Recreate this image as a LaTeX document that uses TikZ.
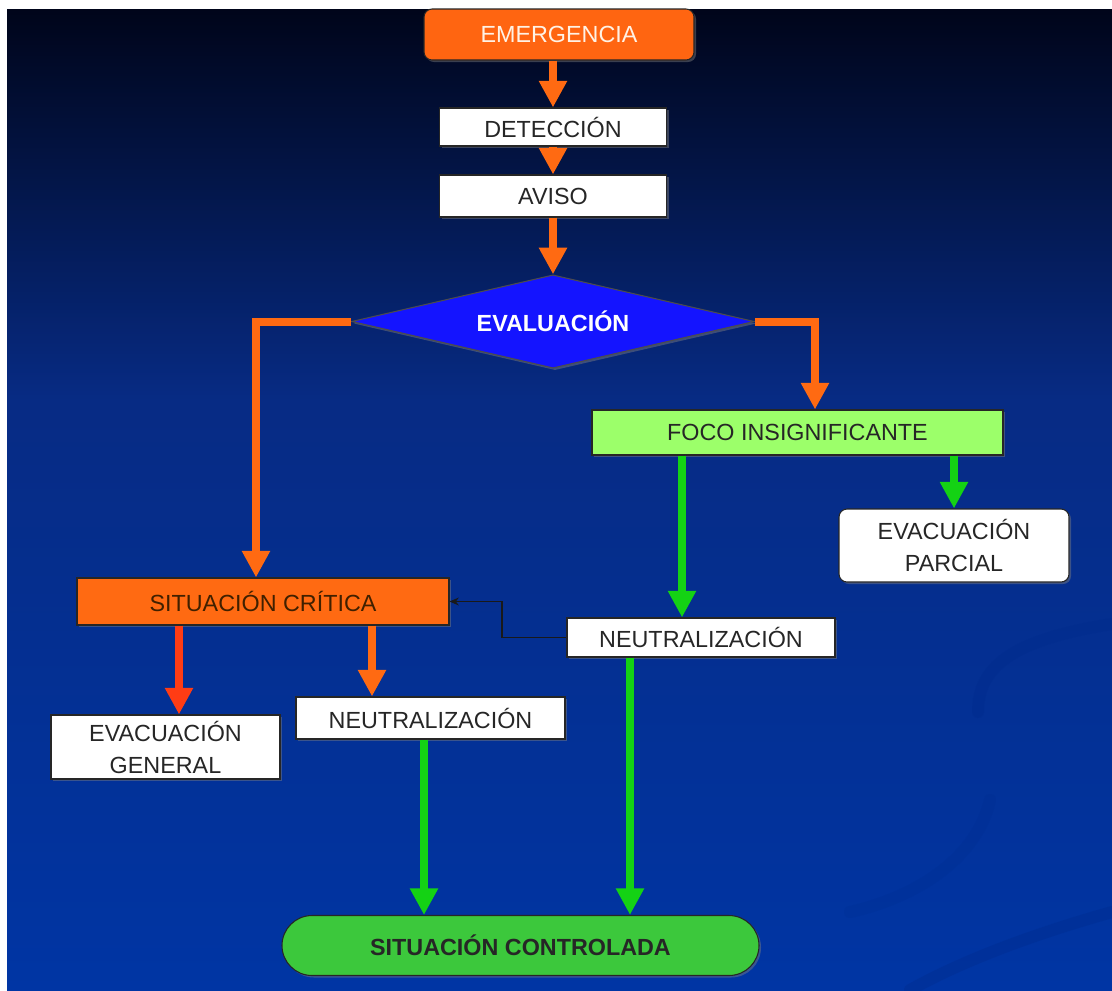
\documentclass[tikz,border=0pt]{standalone}
\usepackage{fontspec}
\setmainfont{Liberation Sans}
\usetikzlibrary{shapes.geometric}
\usetikzlibrary{arrows.meta}
\usetikzlibrary{shadows}

\definecolor{fondoA}{HTML}{00051A}
\definecolor{fondoB}{HTML}{072B84}
\definecolor{fondoC}{HTML}{0035A4}
\definecolor{remolino}{HTML}{002A8C}
\definecolor{naranja}{HTML}{FF6A12}
\definecolor{rojo}{HTML}{FF3C14}
\definecolor{verde}{HTML}{14D214}
\definecolor{verdeclaro}{HTML}{9CFF6A}
\definecolor{verdeok}{HTML}{3CC83C}
\definecolor{azul}{HTML}{1414FF}
\definecolor{texto}{HTML}{262626}

\tikzset{
	caja/.style={draw=black!85, line width=0.8pt, fill=white, text=texto, inner sep=0pt,
		align=center, font=\fontsize{17.5}{21}\selectfont,
		drop shadow={shadow xshift=1.5pt, shadow yshift=-1.5pt, opacity=0.45}},
	flecha/.style={line width=6pt, -{Triangle[width=20pt,length=20pt]}},
	fnar/.style={flecha, naranja},
	froj/.style={flecha, rojo},
	fver/.style={flecha, verde},
	fina/.style={line width=1pt, black!90, -{Stealth[length=7pt,width=6pt]}},
	remo/.style={remolino, line width=9pt, opacity=0.35, line cap=round}
}

\begin{document}
\begin{tikzpicture}[x=0.75pt, y=-0.75pt]

	% fondo
	\useasboundingbox (0,0) rectangle (1112,990);
	\fill[white] (0,0) rectangle (1112,990);
	\shade[top color=fondoA, bottom color=fondoB] (7,9) rectangle (1112,400);
	\shade[top color=fondoB, bottom color=fondoC] (7,400) rectangle (1112,990);
	\draw[remo] (1112,624) .. controls (1010,640) and (978,668) .. (978,712);
	\draw[remo, opacity=0.2] (990,800) .. controls (975,865) and (905,900) .. (850,912);
	\draw[remo] (1112,912) .. controls (1030,935) and (960,962) .. (910,990);

	% nodos
	\node[caja, fill=naranja!95!red, text=white!90!orange, rounded corners=6pt,
		minimum width=202.5pt, minimum height=38.25pt] (emerg) at (559,34.5) {EMERGENCIA};
	\node[caja, minimum width=170.25pt, minimum height=28.5pt] (detec) at (553,127) {DETECCIÓN};
	\node[caja, minimum width=170.25pt, minimum height=31.5pt] (aviso) at (553,196) {AVISO};
	\node[caja, diamond, aspect=4.3, fill=azul, draw=black!70, text=white,
		font=\fontsize{17.5}{21}\selectfont\bfseries,
		minimum width=302pt, minimum height=70pt] (eval) at (553,321.5) {EVALUACIÓN};

	\node[caja, fill=verdeclaro, minimum width=308.25pt, minimum height=33.75pt] (foco) at (797.5,432.5) {FOCO INSIGNIFICANTE};
	\node[caja, rounded corners=6pt, minimum width=172.5pt, minimum height=54.75pt] (evpar) at (954,545.5) {EVACUACIÓN\\[3pt]PARCIAL};
	\node[caja, fill=naranja, text=black!75!orange, minimum width=279pt, minimum height=35.25pt] (sitcrit) at (263,601.5) {SITUACIÓN CRÍTICA};
	\node[caja, minimum width=201pt, minimum height=29.25pt] (neu2) at (701,637.5) {NEUTRALIZACIÓN};
	\node[caja, minimum width=171.75pt, minimum height=48pt] (evgen) at (165.5,747) {EVACUACIÓN\\[3pt]GENERAL};
	\node[caja, minimum width=201.75pt, minimum height=31.5pt] (neu1) at (430.5,718) {NEUTRALIZACIÓN};
	\node[caja, fill=verdeok, rounded corners=22.5pt, font=\fontsize{17.5}{21}\selectfont\bfseries,
		minimum width=357.75pt, minimum height=45pt] (ctrl) at (520.5,945.5) {SITUACIÓN CONTROLADA};

	% conexiones
	\draw[fnar] (emerg.south -| detec) -- (detec);
	\draw[fnar] (detec) -- (aviso);
	\draw[fnar] (aviso) -- (eval);
	\draw[fnar] (eval.west) -| (256,0 |- sitcrit.north);
	\draw[fnar] (eval.east) -| (815,0 |- foco.north);
	\draw[fver] (682,0 |- foco.south) -- (682,0 |- neu2.north);
	\draw[fver] (evpar.north |- foco.south) -- (evpar);
	\draw[fina] (neu2.west) -| (502,0 |- sitcrit.east) -- (sitcrit.east);
	\draw[froj] (179,0 |- sitcrit.south) -- (179,0 |- evgen.north);
	\draw[fnar] (372,0 |- sitcrit.south) -- (372,0 |- neu1.north);
	\draw[fver] (424,0 |- neu1.south) -- (424,0 |- ctrl.north);
	\draw[fver] (630,0 |- neu2.south) -- (630,0 |- ctrl.north);

\end{tikzpicture}
\end{document}
